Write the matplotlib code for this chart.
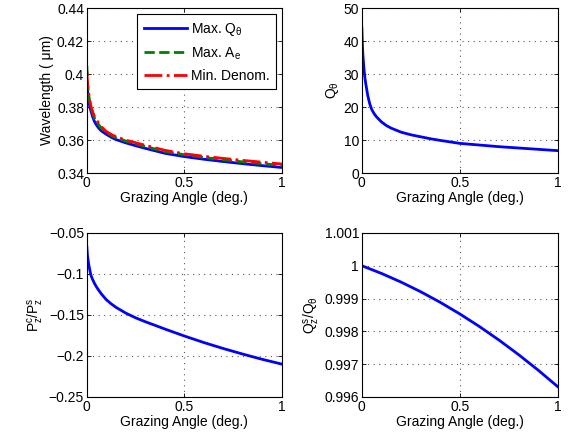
import numpy as np
import matplotlib
matplotlib.use('Agg')
import matplotlib.pyplot as plt

plt.rcParams['font.family'] = ['Liberation Sans', 'DejaVu Sans']
plt.rcParams['mathtext.fontset'] = 'custom'
plt.rcParams['mathtext.rm'] = 'Liberation Sans'
plt.rcParams['mathtext.it'] = 'Liberation Sans'
plt.rcParams['font.size'] = 10

# ─── data ────────────────────────────────────────────────────────────────────
angle = [0, 0.0025, 0.005, 0.01, 0.015, 0.02, 0.03, 0.04, 0.05, 0.0625, 0.075,
         0.1, 0.125, 0.15, 0.2, 0.25, 0.3, 0.35, 0.4, 0.5, 0.6, 0.7, 0.8, 0.9, 1.0]

wl_max_q = [0.396, 0.391, 0.388, 0.384, 0.380, 0.378, 0.374, 0.371, 0.369, 0.367, 0.3655,
            0.3635, 0.3617, 0.3603, 0.3583, 0.3566, 0.3550, 0.3535, 0.3520, 0.3500,
            0.3484, 0.3470, 0.3457, 0.3445, 0.3434]
wl_max_ae = [0.405, 0.396, 0.392, 0.387, 0.383, 0.380, 0.376, 0.373, 0.371, 0.369, 0.367,
             0.3647, 0.3628, 0.3614, 0.3594, 0.3577, 0.3561, 0.3546, 0.3531, 0.3511,
             0.3495, 0.3481, 0.3468, 0.3457, 0.3446]
wl_min_den = [0.402, 0.396, 0.392, 0.388, 0.384, 0.381, 0.377, 0.374, 0.372, 0.370, 0.368,
              0.3652, 0.3634, 0.3620, 0.3600, 0.3584, 0.3568, 0.3553, 0.3538, 0.3517,
              0.3502, 0.3489, 0.3477, 0.3466, 0.3455]

q_theta = [44, 39, 36, 32, 29, 27, 23.5, 21, 19.3, 18, 17,
           15.5, 14.4, 13.6, 12.4, 11.6, 11.0, 10.4, 9.9, 9.0, 8.5, 8.0, 7.6, 7.2, 6.8]

p_ratio = [-0.067, -0.076, -0.081, -0.089, -0.095, -0.101, -0.107, -0.112, -0.116,
           -0.1205, -0.1245, -0.1315, -0.1365, -0.1408, -0.1478, -0.1535, -0.1583,
           -0.1627, -0.1672, -0.1757, -0.1837, -0.1910, -0.1978, -0.2042, -0.2100]

angle_q = [0, 0.1, 0.2, 0.3, 0.4, 0.5, 0.6, 0.7, 0.8, 0.9, 1.0]
q_ratio = [1.0, 0.999766, 0.999502, 0.999208, 0.998884, 0.998530,
           0.998146, 0.997732, 0.997288, 0.996814, 0.99631]

XLABEL = 'Grazing Angle (deg.)'


def style(ax, ylim, yticks):
    ax.set_xlim(0, 1)
    ax.set_xticks([0, 0.5, 1])
    ax.set_xticklabels(['0', '0.5', '1'])
    ax.set_ylim(*ylim)
    ax.set_yticks(yticks)
    ax.grid(True, linestyle=(0, (1, 4)), color='0.35', linewidth=0.8)
    ax.tick_params(direction='in', top=True, right=True, length=3, width=0.6, pad=2)
    ax.set_xlabel(XLABEL, labelpad=1)
    for sp in ax.spines.values():
        sp.set_linewidth(0.8)


fig = plt.figure(figsize=(5.79, 4.45), dpi=100)

# ── wavelength ──
ax1 = fig.add_axes([0.150, 0.611, 0.337, 0.371])
ax1.plot(angle, wl_max_q, color='#0000ff', lw=2, label=r'Max. Q$_\mathregular{\theta}$')
ax1.plot(angle, wl_max_ae, color='#008000', lw=2, ls='--', label=r'Max. A$_\mathregular{e}$')
ax1.plot(angle, wl_min_den, color='#ff0000', lw=2, ls='-.', label='Min. Denom.')
style(ax1, (0.34, 0.44), [0.34, 0.36, 0.38, 0.40, 0.42, 0.44])
ax1.set_yticklabels(['0.34', '0.36', '0.38', '0.4', '0.42', '0.44'])
ax1.set_ylabel('Wavelength ( \u03bcm)', labelpad=2)
leg = ax1.legend(loc='upper right', fancybox=False, edgecolor='black', framealpha=1,
                 borderaxespad=0.45, handlelength=3.1, labelspacing=0.55, borderpad=0.45,
                 handletextpad=0.3)
leg.get_frame().set_linewidth(0.8)

# ── Q_theta ──
ax2 = fig.add_axes([0.625, 0.611, 0.3385, 0.371])
ax2.plot(angle, q_theta, color='#0000ff', lw=2)
style(ax2, (0, 50), [0, 10, 20, 30, 40, 50])
ax2.set_ylabel(r'Q$_\mathregular{\theta}$', labelpad=2)

# ── P ratio ──
ax3 = fig.add_axes([0.150, 0.108, 0.337, 0.3685])
ax3.plot(angle, p_ratio, color='#0000ff', lw=2)
style(ax3, (-0.25, -0.05), [-0.25, -0.2, -0.15, -0.1, -0.05])
ax3.set_yticklabels(['\u22120.25', '\u22120.2', '\u22120.15', '\u22120.1', '\u22120.05'])
ax3.set_ylabel(r'P$^\mathregular{c}_\mathregular{z}$/P$^\mathregular{s}_\mathregular{z}$', labelpad=2)

# ── Q ratio ──
ax4 = fig.add_axes([0.625, 0.108, 0.3385, 0.3685])
ax4.plot(angle_q, q_ratio, color='#0000ff', lw=2)
style(ax4, (0.996, 1.001), [0.996, 0.997, 0.998, 0.999, 1.0, 1.001])
ax4.set_yticklabels(['0.996', '0.997', '0.998', '0.999', '1', '1.001'])
ax4.set_ylabel(r'Q$^\mathregular{s}_\mathregular{z}$/Q$_\mathregular{\theta}$', labelpad=2)

fig.savefig('out.png', dpi=100, facecolor='white')
